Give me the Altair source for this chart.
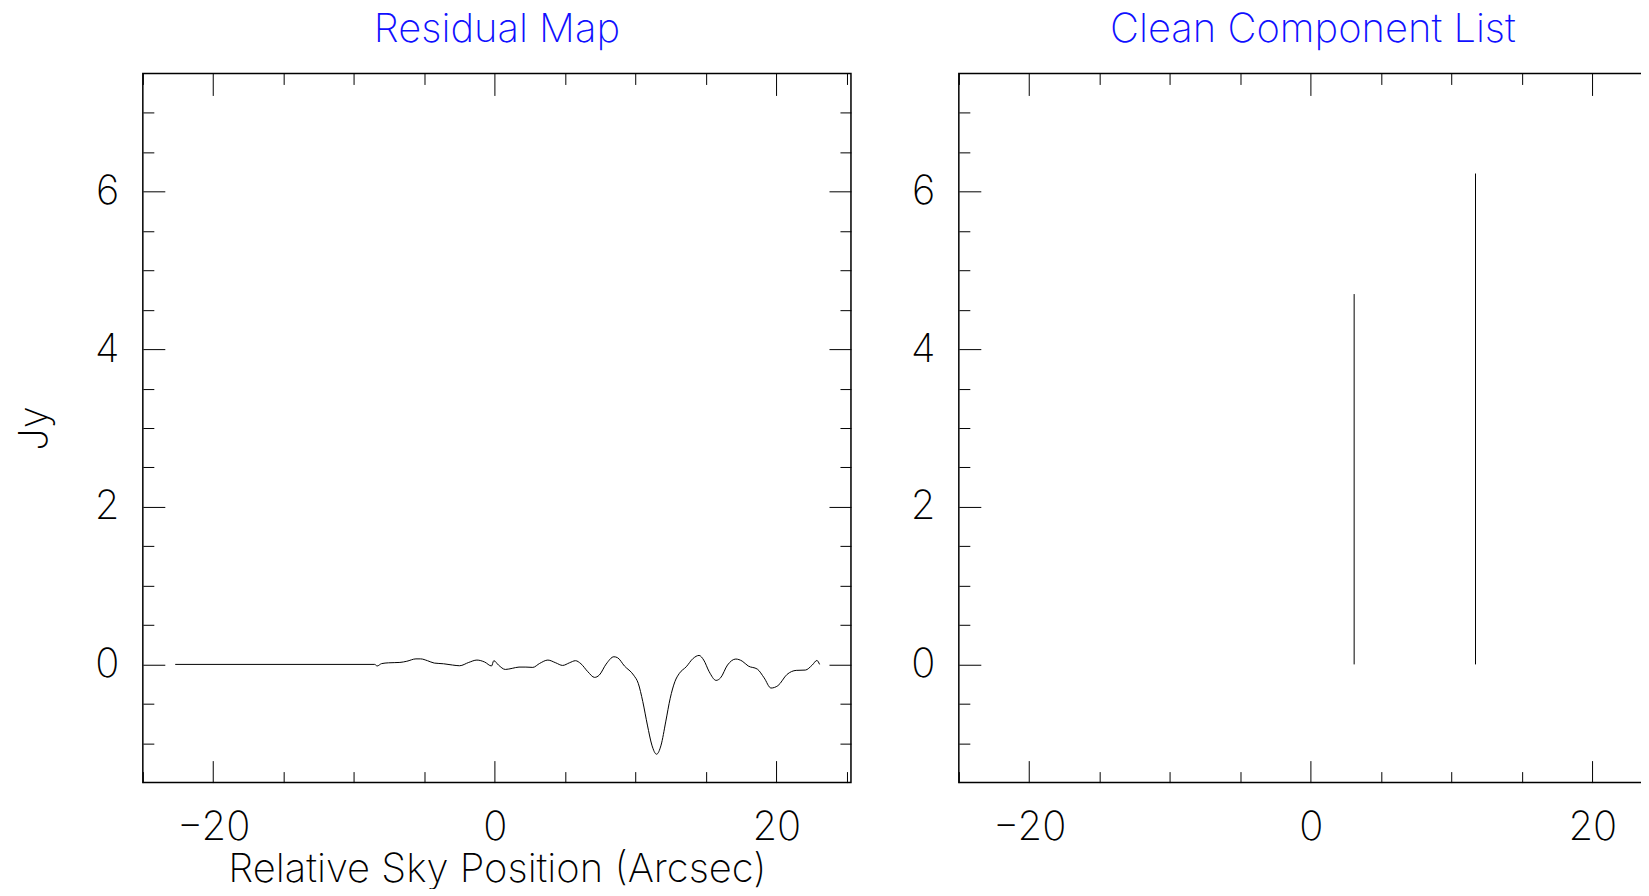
import altair as alt
import pandas as pd

# Residual map profile (arcsec, Jy)
res_x = [-22.7, -8.53, -8.36, -8.04, -7.55, -6.74, -6.25, -5.60, -5.27, -4.78, -4.30,
         -3.64, -3.00, -2.50, -1.85, -1.27, -0.72, -0.23, -0.07, 0.26, 0.75, 1.24,
         1.72, 2.21, 2.70, 3.19, 3.77, 4.33, 4.82, 5.30, 5.73, 6.12, 6.61, 7.09,
         7.42, 7.91, 8.46, 8.72, 9.21, 9.86, 10.19, 10.51, 10.84, 11.16, 11.49,
         11.81, 12.14, 12.46, 12.79, 13.11, 13.60, 14.09, 14.51, 14.84, 15.23,
         15.72, 16.04, 16.53, 17.12, 17.57, 18.00, 18.65, 19.13, 19.62, 20.11,
         20.76, 21.41, 22.06, 22.55, 22.88, 23.07]
res_y = [0.0, 0.0, -0.02, 0.01, 0.02, 0.025, 0.04, 0.07, 0.07, 0.047, 0.017,
         0.008, -0.008, -0.017, 0.025, 0.055, 0.03, -0.02, 0.047, -0.008, -0.064, -0.05,
         -0.034, -0.034, -0.038, 0.013, 0.055, 0.02, -0.013, 0.02, 0.047, 0.008, -0.093, -0.165,
         -0.136, 0.004, 0.097, 0.085, -0.02, -0.136, -0.24, -0.47, -0.77, -1.025, -1.14,
         -1.025, -0.73, -0.43, -0.22, -0.114, -0.03, 0.076, 0.114, 0.055, -0.093,
         -0.203, -0.17, -0.008, 0.068, 0.042, -0.02, -0.06, -0.17, -0.30, -0.27,
         -0.127, -0.076, -0.072, -0.008, 0.05, 0.0]

# Clean components
comp_x = [3.08, 11.70]
comp_flux = [4.70, 6.23]

# Axis tick values
x_major = [-20, 0, 20]
x_minor = [-25, -15, -10, -5, 5, 10, 15, 25]
y_major = [0, 2, 4, 6]
y_minor = [-1.0, -0.5, 0.5, 1.0, 1.5, 2.5, 3.0, 3.5, 4.5, 5.0, 5.5, 6.5, 7.0]

X_DOMAIN = [-25.0, 25.3]
Y_DOMAIN = [-1.5, 7.5]

FONT = "Inter"
FW = 200
FS = 40
W, H = 709, 710
MAJ, MIN = 22, 11

res_df = pd.DataFrame({"x": res_x, "y": res_y})
comp_df = pd.DataFrame({"x": comp_x, "y0": [0.0] * len(comp_x), "flux": comp_flux})
dummy = pd.DataFrame({"x": [0.0], "y": [0.0]})

xs = alt.Scale(domain=X_DOMAIN, nice=False, zero=False)
ys = alt.Scale(domain=Y_DOMAIN, nice=False, zero=False)

TXT = dict(labelFont=FONT, labelFontSize=FS, labelFontWeight=FW, labelColor="black",
           titleFont=FONT, titleFontSize=FS, titleFontWeight=FW, titleColor="black")


def tick_axis(orient, values, size):
    return alt.Axis(orient=orient, values=values, labels=False, domain=False,
                    grid=False, tickSize=size, offset=-size, title=None,
                    tickColor="black", tickWidth=1)


def tick_layers():
    layers = []
    for xo, yo, xv, yv, sz in [
        ("bottom", "left", x_major, y_major, MAJ),
        ("bottom", "left", x_minor, y_minor, MIN),
        ("top", "right", x_major, y_major, MAJ),
        ("top", "right", x_minor, y_minor, MIN),
    ]:
        layers.append(
            alt.Chart(dummy).mark_point(opacity=0).encode(
                x=alt.X("x:Q", scale=xs, axis=tick_axis(xo, xv, sz)),
                y=alt.Y("y:Q", scale=ys, axis=tick_axis(yo, yv, sz)),
            )
        )
    return layers


def label_x(title):
    kw = dict(orient="bottom", values=x_major, ticks=False, tickSize=0, domain=False,
              grid=False, labelPadding=25, format="d", **TXT)
    if title:
        return alt.Axis(title=title, titlePadding=2, **kw)
    return alt.Axis(title=None, **kw)


def label_y(title):
    kw = dict(orient="left", values=y_major, ticks=False, tickSize=0, domain=False,
              grid=False, labelPadding=24, format="d", **TXT)
    if title:
        return alt.Axis(title=title, titlePadding=40, **kw)
    return alt.Axis(title=None, **kw)


def ptitle(text):
    return alt.Title(text, color="#1010ff", font=FONT, fontSize=FS, fontWeight=FW,
                     offset=23, anchor="middle")


left_main = alt.Chart(res_df).mark_line(color="black", strokeWidth=1,
                                          interpolate="monotone").encode(
    x=alt.X("x:Q", scale=xs, axis=label_x("Relative Sky Position (Arcsec)")),
    y=alt.Y("y:Q", scale=ys, axis=label_y("Jy")),
)

right_main = alt.Chart(comp_df).mark_rule(color="black", strokeWidth=1).encode(
    x=alt.X("x:Q", scale=xs, axis=label_x(None)),
    y=alt.Y("y0:Q", scale=ys, axis=label_y(None)),
    y2="flux:Q",
)

left = alt.layer(left_main, *tick_layers()).resolve_axis(
    x="independent", y="independent").properties(width=W, height=H, title=ptitle("Residual Map"))
right = alt.layer(right_main, *tick_layers()).resolve_axis(
    x="independent", y="independent").properties(width=W, height=H, title=ptitle("Clean Component List"))

chart = alt.hconcat(left, right, spacing=56).properties(
    padding={"left": 5, "top": 0, "right": -28, "bottom": -2},
    background="white",
).configure_view(stroke="black", strokeWidth=1.5)

chart.save("out.html", embed_options={"renderer": "svg", "actions": False})
